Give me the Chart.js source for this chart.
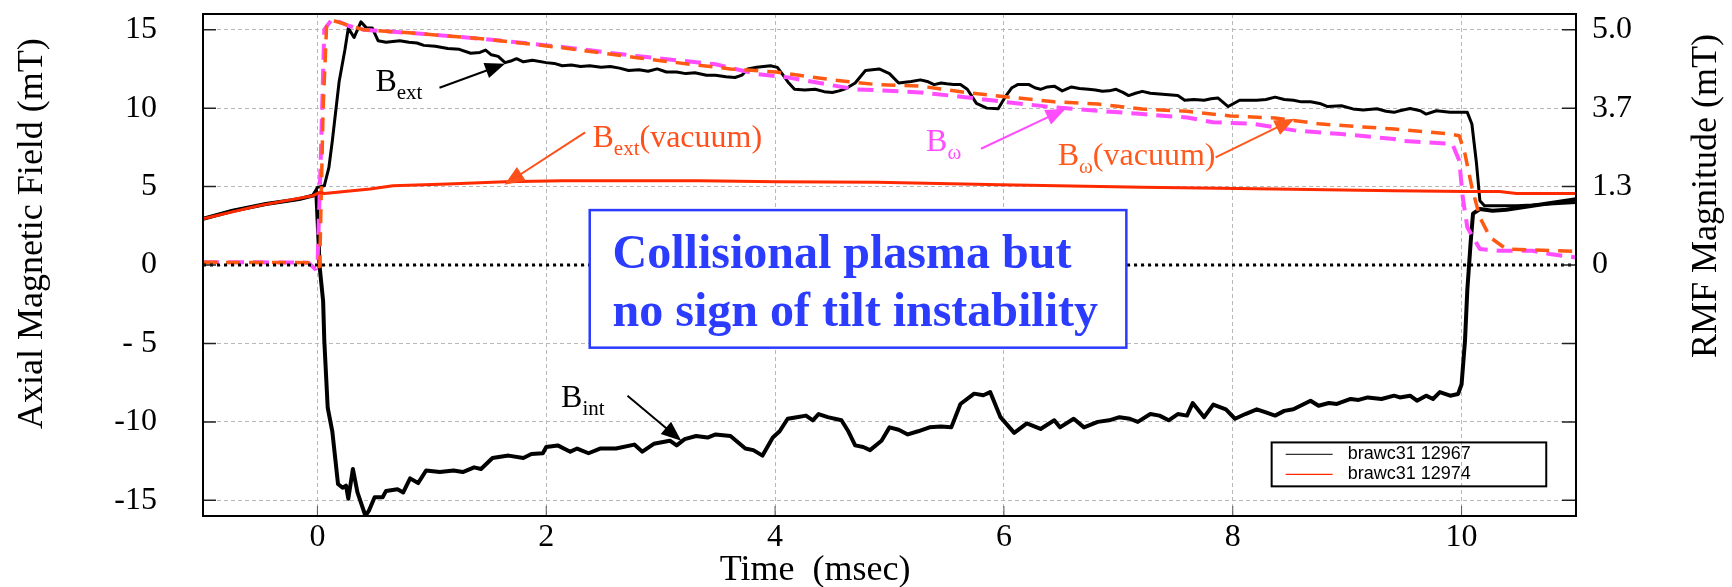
<!DOCTYPE html>
<html>
<head>
<meta charset="utf-8">
<script src="https://cdn.jsdelivr.net/npm/chart.js@4.4.1/dist/chart.umd.min.js"></script>
<style>
  html, body { margin: 0; padding: 0; background: #fff; }
  #wrap { width: 1732px; height: 587px; }
</style>
</head>
<body>
<div id="wrap"><canvas id="field-chart" width="1732" height="587"></canvas></div>
<script>
// values: time in msec, field in mT

// B_ext, plasma shot 12967
const bExtTime = [-1, -0.74, -0.45, -0.16, -0.04, 0.0, 0.06, 0.10, 0.13, 0.16, 0.19, 0.24, 0.27, 0.32, 0.38, 0.43, 0.48, 0.53, 0.60, 0.66, 0.72, 0.80, 0.87, 0.93, 1.03, 1.14, 1.24, 1.34, 1.42, 1.47, 1.52, 1.58, 1.64, 1.69, 1.74, 1.80, 1.88, 2.0, 2.07, 2.14, 2.22, 2.30, 2.38, 2.48, 2.56, 2.64, 2.72, 2.81, 2.89, 2.97, 3.05, 3.14, 3.22, 3.30, 3.40, 3.48, 3.57, 3.65, 3.71, 3.76, 3.84, 3.96, 4.02, 4.07, 4.12, 4.17, 4.26, 4.35, 4.43, 4.50, 4.56, 4.62, 4.70, 4.79, 4.85, 4.91, 5.00, 5.08, 5.19, 5.27, 5.33, 5.39, 5.45, 5.50, 5.56, 5.62, 5.68, 5.76, 5.85, 5.95, 6.01, 6.07, 6.12, 6.22, 6.27, 6.32, 6.38, 6.44, 6.51, 6.59, 6.66, 6.74, 6.80, 6.86, 6.92, 6.98, 7.04, 7.09, 7.15, 7.21, 7.28, 7.36, 7.44, 7.52, 7.58, 7.66, 7.75, 7.81, 7.87, 7.96, 8.06, 8.13, 8.21, 8.29, 8.37, 8.45, 8.53, 8.60, 8.68, 8.76, 8.83, 8.95, 9.05, 9.14, 9.26, 9.34, 9.41, 9.46, 9.55, 9.64, 9.69, 9.78, 9.90, 10.05, 10.09, 10.13, 10.16, 10.20, 10.33, 10.48, 10.62, 10.77, 11.0];
const bExtField = [2.95, 3.46, 3.89, 4.2, 4.42, 4.95, 5.05, 6.2, 7.9, 9.8, 11.7, 13.7, 15.1, 14.5, 15.5, 15.1, 15.1, 14.3, 14.2, 14.25, 14.3, 14.2, 14.15, 14.0, 13.95, 13.8, 13.75, 13.5, 13.55, 13.7, 13.4, 13.3, 12.9, 13.0, 13.15, 12.95, 13.05, 12.9, 12.85, 12.7, 12.75, 12.65, 12.7, 12.6, 12.65, 12.55, 12.4, 12.45, 12.35, 12.5, 12.3, 12.3, 12.2, 12.25, 12.1, 12.1, 12.0, 11.95, 12.1, 12.5, 12.6, 12.7, 12.6, 12.1, 11.6, 11.2, 11.15, 11.2, 11.05, 11.0, 11.1, 11.25, 11.6, 12.4, 12.45, 12.5, 12.2, 11.6, 11.7, 11.8, 11.7, 11.5, 11.6, 11.55, 11.5, 11.5, 11.2, 10.3, 10.0, 9.96, 10.7, 11.3, 11.5, 11.5, 11.3, 11.2, 11.35, 11.4, 11.1, 11.35, 11.25, 11.2, 11.15, 11.07, 11.1, 11.2, 11.0, 10.8, 10.95, 11.07, 10.95, 10.9, 10.85, 10.8, 10.5, 10.55, 10.5, 10.6, 10.65, 10.1, 10.5, 10.5, 10.5, 10.55, 10.7, 10.55, 10.5, 10.4, 10.4, 10.3, 10.1, 10.15, 9.95, 9.88, 9.96, 9.8, 9.73, 9.83, 9.98, 9.83, 9.62, 9.83, 9.73, 9.73, 8.99, 6.5, 4.1, 3.78, 3.78, 3.78, 3.82, 3.89, 3.99];

// B_int, plasma shot 12967
const bIntTime = [-1, -0.74, -0.45, -0.16, -0.04, -0.01, 0.02, 0.05, 0.06, 0.09, 0.13, 0.18, 0.22, 0.25, 0.27, 0.31, 0.35, 0.42, 0.45, 0.50, 0.57, 0.60, 0.70, 0.75, 0.81, 0.88, 0.95, 1.07, 1.19, 1.27, 1.37, 1.43, 1.53, 1.67, 1.80, 1.87, 1.97, 2.0, 2.10, 2.21, 2.27, 2.37, 2.47, 2.61, 2.77, 2.84, 2.94, 3.08, 3.14, 3.21, 3.31, 3.41, 3.48, 3.61, 3.74, 3.81, 3.89, 3.98, 4.04, 4.11, 4.19, 4.27, 4.33, 4.38, 4.46, 4.58, 4.64, 4.70, 4.77, 4.83, 4.93, 5.00, 5.08, 5.16, 5.25, 5.35, 5.45, 5.54, 5.62, 5.74, 5.82, 5.88, 5.97, 6.09, 6.20, 6.32, 6.44, 6.49, 6.61, 6.70, 6.82, 6.92, 7.01, 7.10, 7.17, 7.28, 7.36, 7.44, 7.52, 7.60, 7.65, 7.75, 7.83, 7.94, 8.02, 8.11, 8.21, 8.29, 8.37, 8.45, 8.53, 8.68, 8.75, 8.84, 8.91, 9.03, 9.10, 9.18, 9.30, 9.41, 9.46, 9.55, 9.61, 9.69, 9.75, 9.81, 9.90, 9.97, 10.0, 10.03, 10.05, 10.08, 10.10, 10.16, 10.27, 10.39, 10.62, 11.0];
const bIntField = [2.95, 3.46, 3.89, 4.2, 4.42, 4.7, -0.15, -2.3, -4.8, -9.1, -10.6, -13.96, -14.2, -14.07, -14.9, -13.0, -14.5, -16.0, -15.66, -14.8, -14.8, -14.4, -14.3, -14.5, -13.6, -13.9, -13.1, -13.2, -13.1, -13.2, -12.9, -13.0, -12.3, -12.15, -12.3, -12.05, -12.0, -11.6, -11.5, -11.9, -11.7, -12.0, -11.7, -11.7, -11.45, -11.9, -11.4, -11.2, -11.5, -11.1, -10.9, -11.0, -10.8, -10.9, -11.7, -11.8, -12.15, -11.0, -10.6, -9.8, -9.7, -9.6, -9.9, -9.5, -9.7, -9.9, -10.6, -11.5, -11.6, -11.8, -11.2, -10.35, -10.5, -10.8, -10.6, -10.35, -10.3, -10.35, -8.86, -8.2, -8.3, -8.1, -9.7, -10.7, -10.1, -10.45, -9.9, -10.35, -9.8, -10.35, -10.0, -9.9, -9.7, -9.8, -10.0, -9.5, -9.6, -9.9, -9.5, -9.6, -8.8, -9.7, -8.9, -9.2, -9.8, -9.5, -9.2, -9.4, -9.6, -9.3, -9.2, -8.65, -8.97, -8.8, -8.86, -8.54, -8.6, -8.44, -8.54, -8.33, -8.44, -8.33, -8.65, -8.33, -8.54, -8.1, -8.33, -8.22, -7.6, -4.8, -1.6, 1.5, 3.27, 3.57, 3.46, 3.52, 3.78, 4.2];

// B_ext, vacuum shot 12974
const vacTime = [-1, -0.5, -0.04, 0.02, 0.06, 0.46, 0.66, 1.14, 1.64, 2.14, 2.8, 3.34, 4.01, 4.89, 5.97, 7.21, 8.37, 9.41, 10.04, 10.33, 10.48, 11.0];
const vacField = [2.95, 3.8, 4.42, 4.63, 4.56, 4.84, 5.05, 5.16, 5.3, 5.37, 5.37, 5.37, 5.3, 5.27, 5.12, 4.95, 4.84, 4.74, 4.69, 4.69, 4.56, 4.56];

// B_omega (RMF), plasma
const rmfTime = [-1, -0.5, -0.08, -0.02, 0.0, 0.03, 0.06, 0.13, 0.27, 0.40, 0.80, 1.47, 2.14, 2.81, 3.48, 3.84, 4.11, 4.70, 4.89, 5.27, 5.66, 6.05, 6.44, 6.82, 7.21, 7.60, 7.83, 8.18, 8.56, 8.95, 9.41, 9.46, 9.92, 9.98, 10.01, 10.05, 10.16, 10.33, 10.62, 10.77, 11.0];
const rmfField = [0.17, 0.17, 0.15, -0.25, -0.15, 7.0, 15.0, 15.7, 15.25, 15.0, 14.8, 14.4, 13.9, 13.3, 12.8, 12.17, 11.96, 11.2, 11.15, 11.0, 10.7, 10.36, 10.05, 9.83, 9.62, 9.4, 9.1, 9.0, 8.56, 8.35, 8.03, 7.92, 7.71, 6.65, 4.31, 2.4, 1.02, 0.91, 0.91, 0.7, 0.48];

// B_omega (RMF), vacuum
const rmfVacTime = [-1, -0.08, -0.02, 0.02, 0.05, 0.08, 0.13, 0.40, 0.80, 1.47, 2.14, 2.81, 3.14, 3.61, 4.01, 4.11, 4.50, 4.89, 5.27, 5.66, 6.05, 6.44, 6.82, 7.21, 7.60, 7.98, 8.37, 8.75, 9.14, 9.41, 9.90, 9.98, 10.03, 10.09, 10.16, 10.25, 10.39, 10.62, 11.0];
const rmfVacField = [0.17, 0.15, -0.1, -0.1, 10.0, 15.2, 15.6, 15.0, 14.8, 14.4, 13.85, 13.2, 12.9, 12.5, 12.3, 12.2, 11.8, 11.5, 11.4, 11.0, 10.7, 10.4, 10.26, 9.94, 9.8, 9.5, 9.37, 9.0, 8.8, 8.67, 8.35, 8.24, 7.07, 4.95, 3.03, 1.76, 1.02, 0.96, 0.87];

const zeroTime = [-1, 11];
const zeroField = [0, 0];

const timeTicks = [0, 2, 4, 6, 8, 10];
const fieldTicks = [-15, -10, -5, 0, 5, 10, 15];
const fieldTickText = ['-15', '-10', '- 5', '0', '5', '10', '15'];
const rmfTickPos = [15, 10, 5, 0];
const rmfTickText = ['5.0', '3.7', '1.3', '0'];
const legendNames = ['brawc31 12967', 'brawc31 12974'];
const boxLines = ['Collisional plasma but', 'no sign of tilt instability'];

const serif = "'Liberation Serif', 'Times New Roman', serif";
const sans = "'Liberation Sans', Arial, sans-serif";

// label / arrow placement, in data units
const notes = [
    { sub: 'ext', tail: '', color: '#000', at: [0.507, 11.11], from: [1.067, 11.30], to: [1.64, 12.83] },
    { sub: 'ext', tail: '(vacuum)', color: '#ff4f1a', at: [2.404, 7.50], from: [2.34, 8.45], to: [1.635, 5.12] },
    { sub: 'ω', tail: '', color: '#ff4cff', at: [5.32, 7.24], from: [5.80, 7.41], to: [6.54, 9.96] },
    { sub: 'ω', tail: '(vacuum)', color: '#ff5a1e', at: [6.47, 6.39], from: [7.85, 6.86], to: [8.54, 9.32] },
    { sub: 'int', tail: '', color: '#000', at: [2.13, -9.08], from: [2.71, -8.33], to: [3.18, -11.2] }
];
const textBox = { x0: 2.38, x1: 7.07, y0: 3.5, y1: -5.27, textX: 2.58, baselines: [-0.22, -3.87] };
const legendBox = { x0: 8.34, x1: 10.74, y0: -11.31, y1: -14.11 };

const zip = (t, v) => t.map((x, i) => ({ x, y: v[i] }));

function arrow(ctx, x1, y1, x2, y2, color) {
    const a = Math.atan2(y2 - y1, x2 - x1);
    const len = 20, half = 8;
    ctx.save();
    ctx.strokeStyle = color;
    ctx.fillStyle = color;
    ctx.lineWidth = 2;
    ctx.beginPath();
    ctx.moveTo(x1, y1);
    ctx.lineTo(x2 - Math.cos(a) * len * 0.8, y2 - Math.sin(a) * len * 0.8);
    ctx.stroke();
    ctx.beginPath();
    ctx.moveTo(x2, y2);
    ctx.lineTo(x2 - Math.cos(a) * len + Math.sin(a) * half, y2 - Math.sin(a) * len - Math.cos(a) * half);
    ctx.lineTo(x2 - Math.cos(a) * len - Math.sin(a) * half, y2 - Math.sin(a) * len + Math.cos(a) * half);
    ctx.closePath();
    ctx.fill();
    ctx.restore();
}

// pin the plot box: no extra room for half-height end labels
function noPad(s) {
    s.paddingTop = 0;
    s.paddingBottom = 0;
    s.paddingLeft = 0;
    s.paddingRight = 0;
}

const overlay = {
    id: 'overlay',
    afterDatasetsDraw(chart) {
        const { ctx, chartArea: area, scales } = chart;
        const px = v => scales.x.getPixelForValue(v);
        const py = v => scales.y.getPixelForValue(v);

        ctx.save();
        // inner tick marks
        ctx.strokeStyle = '#222';
        ctx.lineWidth = 1.5;
        fieldTicks.forEach(v => {
            const y = py(v);
            ctx.beginPath();
            ctx.moveTo(area.left, y); ctx.lineTo(area.left + 13, y);
            ctx.moveTo(area.right - 14, y); ctx.lineTo(area.right, y);
            ctx.stroke();
        });
        ctx.strokeStyle = '#555';
        ctx.lineWidth = 1;
        timeTicks.forEach(v => {
            const x = px(v);
            ctx.beginPath();
            ctx.moveTo(x, area.bottom); ctx.lineTo(x, area.bottom - 10);
            ctx.stroke();
        });

        // frame
        ctx.strokeStyle = '#000';
        ctx.lineWidth = 2;
        ctx.strokeRect(area.left, area.top, area.right - area.left, area.bottom - area.top);

        // blue text box
        const bx0 = px(textBox.x0), bx1 = px(textBox.x1), by0 = py(textBox.y0), by1 = py(textBox.y1);
        ctx.fillStyle = '#fff';
        ctx.fillRect(bx0, by0, bx1 - bx0, by1 - by0);
        ctx.strokeStyle = '#2b3cff';
        ctx.lineWidth = 2.5;
        ctx.strokeRect(bx0, by0, bx1 - bx0, by1 - by0);
        ctx.fillStyle = '#2b3cff';
        ctx.font = `bold 48px ${serif}`;
        ctx.textAlign = 'left';
        ctx.textBaseline = 'alphabetic';
        boxLines.forEach((line, i) => ctx.fillText(line, px(textBox.textX), py(textBox.baselines[i])));

        // labels with subscripts and arrows
        notes.forEach(n => {
            let x = px(n.at[0]);
            const y = py(n.at[1]);
            ctx.fillStyle = n.color;
            ctx.font = `32px ${serif}`;
            ctx.fillText('B', x, y);
            x += ctx.measureText('B').width;
            ctx.font = `21px ${serif}`;
            ctx.fillText(n.sub, x, y + 8);
            x += ctx.measureText(n.sub).width;
            if (n.tail) {
                ctx.font = `32px ${serif}`;
                ctx.fillText(n.tail, x, y);
            }
            arrow(ctx, px(n.from[0]), py(n.from[1]), px(n.to[0]), py(n.to[1]), n.color);
        });

        // legend
        const lx0 = px(legendBox.x0), lx1 = px(legendBox.x1), ly0 = py(legendBox.y0), ly1 = py(legendBox.y1);
        ctx.strokeStyle = '#000';
        ctx.lineWidth = 2;
        ctx.strokeRect(lx0, ly0, lx1 - lx0, ly1 - ly0);
        ctx.font = `18px ${sans}`;
        ctx.textBaseline = 'middle';
        const legendColors = ['#333', chart.data.datasets[1].borderColor];
        legendNames.forEach((name, i) => {
            const ry = ly0 + 12 + i * 20;
            ctx.strokeStyle = legendColors[i];
            ctx.lineWidth = 1.3;
            ctx.beginPath();
            ctx.moveTo(lx0 + 14, ry); ctx.lineTo(lx0 + 61, ry);
            ctx.stroke();
            ctx.fillStyle = '#000';
            ctx.fillText(name, lx0 + 76, ry);
        });

        // axis titles
        ctx.fillStyle = '#000';
        ctx.font = `36px ${serif}`;
        ctx.textAlign = 'center';
        ctx.textBaseline = 'alphabetic';
        ctx.save();
        ctx.translate(42, py(2));
        ctx.rotate(-Math.PI / 2);
        ctx.fillText('Axial Magnetic Field (mT)', 0, 0);
        ctx.restore();
        ctx.save();
        ctx.translate(1716, py(4.4));
        ctx.rotate(-Math.PI / 2);
        ctx.fillText('RMF Magnitude (mT)', 0, 0);
        ctx.restore();
        ctx.fillText('Time  (msec)', px(4.35), 580);
        ctx.restore();
    }
};

const gridStyle = { color: '#b8b8b8', lineWidth: 1, drawTicks: false };
const tickFont = { family: serif, size: 32 };

const fieldChart = new Chart(document.getElementById('field-chart').getContext('2d'), {
    type: 'line',
    data: {
        datasets: [
            { label: 'zero', data: zip(zeroTime, zeroField), borderColor: '#000', borderWidth: 3, borderDash: [3, 4] },
            { label: 'Bext vacuum', data: zip(vacTime, vacField), borderColor: '#ff2a00', borderWidth: 3 },
            { label: 'Bw vacuum', data: zip(rmfVacTime, rmfVacField), borderColor: '#ff5a14', borderWidth: 3.5, borderDash: [14, 9] },
            { label: 'Bw', data: zip(rmfTime, rmfField), borderColor: '#ff4dff', borderWidth: 4, borderDash: [16, 9] },
            { label: 'Bint', data: zip(bIntTime, bIntField), borderColor: '#000', borderWidth: 4 },
            { label: 'Bext', data: zip(bExtTime, bExtField), borderColor: '#000', borderWidth: 3 }
        ]
    },
    options: {
        responsive: false,
        animation: false,
        devicePixelRatio: 1,
        layout: { padding: { top: 14, left: 0, right: 0, bottom: 0 } },
        elements: {
            point: { radius: 0 },
            line: { tension: 0, fill: false, borderJoinStyle: 'round' }
        },
        plugins: {
            legend: { display: false },
            tooltip: { enabled: false }
        },
        scales: {
            x: {
                type: 'linear',
                min: -1,
                max: 11,
                afterBuildTicks: s => { s.ticks = timeTicks.map(v => ({ value: v })); },
                afterFit: s => { s.height = 71; noPad(s); },
                grid: gridStyle,
                border: { display: false, dash: [4, 3] },
                ticks: { font: tickFont, color: '#000', padding: 2, maxRotation: 0, autoSkip: false, callback: v => String(v) }
            },
            y: {
                position: 'left',
                min: -16,
                max: 16,
                afterBuildTicks: s => { s.ticks = fieldTicks.map(v => ({ value: v })); },
                afterFit: s => { s.width = 203; noPad(s); },
                grid: gridStyle,
                border: { display: false, dash: [4, 3] },
                ticks: { font: tickFont, color: '#000', padding: 46, autoSkip: false, callback: v => fieldTickText[fieldTicks.indexOf(v)] }
            },
            y2: {
                position: 'right',
                min: -16,
                max: 16,
                afterBuildTicks: s => { s.ticks = rmfTickPos.map(v => ({ value: v })); },
                afterFit: s => { s.width = 156; noPad(s); },
                grid: { display: false, drawTicks: false },
                border: { display: false },
                ticks: { font: tickFont, color: '#000', padding: 16, autoSkip: false, callback: v => rmfTickText[rmfTickPos.indexOf(v)] }
            }
        }
    },
    plugins: [overlay]
});
</script>
</body>
</html>
